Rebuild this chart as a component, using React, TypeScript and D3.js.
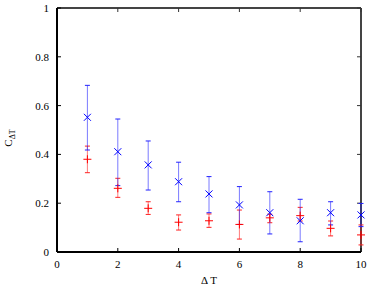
import React from 'react';
import * as d3 from 'd3';

// ΔT steps
const deltaT = [1, 2, 3, 4, 5, 6, 7, 8, 9, 10];

// blue series (x markers)
const blueMean = [0.552, 0.411, 0.357, 0.288, 0.238, 0.193, 0.161, 0.128, 0.161, 0.152];
const blueLow = [0.418, 0.272, 0.254, 0.206, 0.161, 0.113, 0.074, 0.042, 0.111, 0.104];
const blueHigh = [0.683, 0.545, 0.455, 0.368, 0.309, 0.268, 0.247, 0.216, 0.206, 0.199];

// red series (+ markers)
const redMean = [0.38, 0.261, 0.179, 0.122, 0.128, 0.113, 0.14, 0.149, 0.097, 0.07];
const redLow = [0.325, 0.224, 0.154, 0.09, 0.101, 0.053, 0.12, 0.127, 0.066, 0.029];
const redHigh = [0.434, 0.302, 0.206, 0.152, 0.156, 0.172, 0.155, 0.183, 0.127, 0.111];

const xTicks = [0, 2, 4, 6, 8, 10];
const yTicks = [0, 0.2, 0.4, 0.6, 0.8, 1];

const W = 374;
const H = 289;
const margin = { top: 8, right: 13, bottom: 37, left: 57 };

const App: React.FC = () => {
  const x = d3.scaleLinear().domain([0, 10]).range([margin.left, W - margin.right]);
  const y = d3.scaleLinear().domain([0, 1]).range([H - margin.bottom, margin.top]);
  const font = "'Liberation Serif', 'DejaVu Serif', serif";
  const cap = 2.5;

  const errorBars = (mean: number[], low: number[], high: number[], color: string) =>
    deltaT.map((t, i) => (
      <g key={i} stroke={color} strokeWidth={1}>
        <line x1={x(t)} x2={x(t)} y1={y(low[i])} y2={y(high[i])} strokeOpacity={0.6} />
        <line x1={x(t) - cap} x2={x(t) + cap} y1={y(low[i])} y2={y(low[i])} />
        <line x1={x(t) - cap} x2={x(t) + cap} y1={y(high[i])} y2={y(high[i])} />
      </g>
    ));

  return (
    <svg width={W} height={H} style={{ position: 'absolute', left: 0, top: 0 }}>
      <rect width={W} height={H} fill="white" />
      {/* frame */}
      <line x1={x(0)} x2={x(10)} y1={y(1)} y2={y(1)} stroke="#444" strokeWidth={2} />
      <line x1={x(10)} x2={x(10)} y1={y(0)} y2={y(1)} stroke="#444" strokeWidth={2} />

      {xTicks.map((t) => (
        <g key={'x' + t}>
          <line x1={x(t)} x2={x(t)} y1={y(0)} y2={y(0) - 4} stroke="#000" />
          <line x1={x(t)} x2={x(t)} y1={y(1)} y2={y(1) + 4} stroke="#333" />
          <text x={x(t)} y={y(0) + 16} textAnchor="middle" fontFamily={font} fontSize={11}>
            {t}
          </text>
        </g>
      ))}
      {yTicks.map((t) => (
        <g key={'y' + t}>
          <line x1={x(0)} x2={x(0) + 4} y1={y(t)} y2={y(t)} stroke="#000" />
          <line x1={x(10)} x2={x(10) - 4} y1={y(t)} y2={y(t)} stroke="#333" />
          <text x={x(0) - 8} y={y(t) + 4} textAnchor="end" fontFamily={font} fontSize={11}>
            {t}
          </text>
        </g>
      ))}

      {errorBars(redMean, redLow, redHigh, '#ff2222')}
      {errorBars(blueMean, blueLow, blueHigh, '#2222ff')}

      {/* red + markers */}
      {deltaT.map((t, i) => (
        <g key={'r' + i} stroke="#ff0000" strokeWidth={1}>
          <line x1={x(t) - 4} x2={x(t) + 4} y1={y(redMean[i])} y2={y(redMean[i])} />
          <line x1={x(t)} x2={x(t)} y1={y(redMean[i]) - 4} y2={y(redMean[i]) + 4} />
        </g>
      ))}
      {/* blue x markers */}
      {deltaT.map((t, i) => (
        <g key={'b' + i} stroke="#0000ff" strokeWidth={1}>
          <line x1={x(t) - 3.5} x2={x(t) + 3.5} y1={y(blueMean[i]) - 3.5} y2={y(blueMean[i]) + 3.5} />
          <line x1={x(t) - 3.5} x2={x(t) + 3.5} y1={y(blueMean[i]) + 3.5} y2={y(blueMean[i]) - 3.5} />
        </g>
      ))}

      <line x1={x(0)} x2={x(0)} y1={y(0)} y2={y(1)} stroke="#000" strokeWidth={2} />
      <line x1={x(0)} x2={x(10)} y1={y(0)} y2={y(0)} stroke="#000" strokeWidth={2} />

      <text x={(x(0) + x(10)) / 2} y={284} textAnchor="middle" fontFamily={font} fontSize={11}>
        Δ T
      </text>
      <text transform={`translate(12, 138) rotate(-90)`} textAnchor="middle" fontFamily={font} fontSize={11}>
        C
        <tspan fontSize={8} dy={3}>ΔT</tspan>
      </text>
    </svg>
  );
};

export default App;
